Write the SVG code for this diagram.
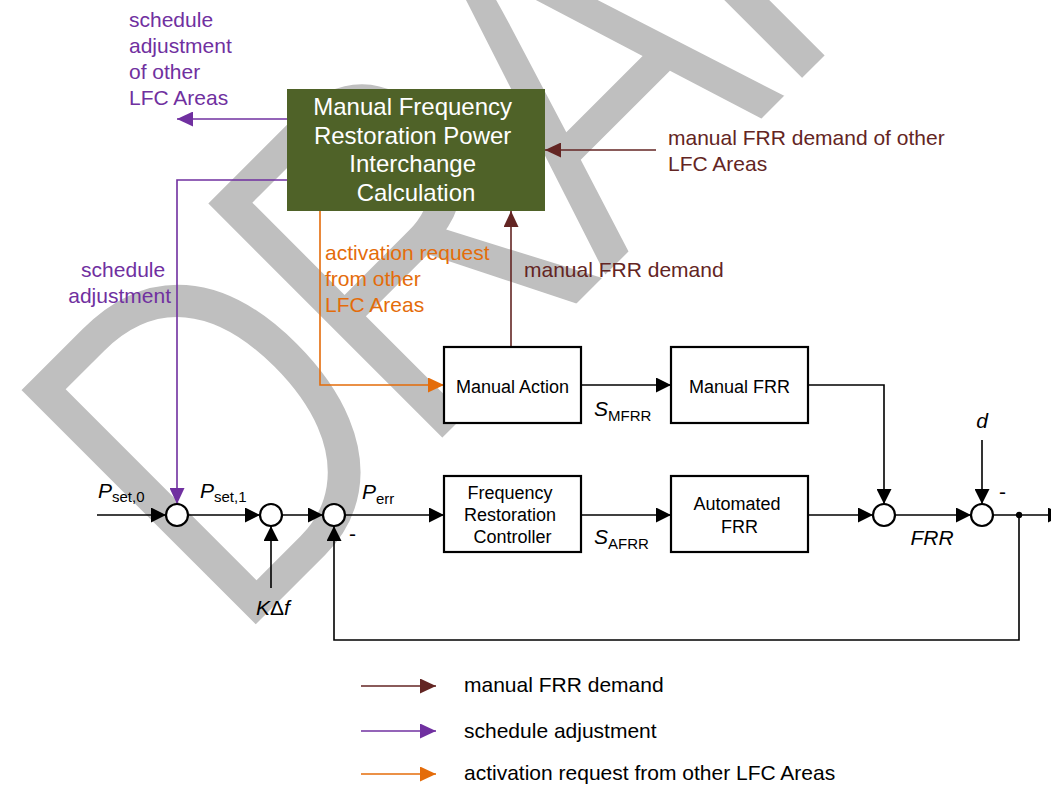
<svg xmlns="http://www.w3.org/2000/svg" width="1051" height="787" viewBox="0 0 1051 787">
  <style>
    .lbl { font-family: "Liberation Sans", Arial, sans-serif; }
    .blk { font-size: 18px; fill: #000; text-anchor: middle; }
    .sym { font-size: 21px; fill: #000; }
    .sub { font-size: 15px; }
    .it { font-style: italic; }
    .purple { fill: #7030A0; font-size: 21px; }
    .orange { fill: #E46C0A; font-size: 21px; }
    .brown { fill: #632523; font-size: 21px; }
    .leg { fill: #000; font-size: 21px; }
    .box { fill: #fff; stroke: #000; stroke-width: 2.2; }
    .sum { fill: #fff; stroke: #000; stroke-width: 2.2; }
    .w { fill: none; stroke: #000; stroke-width: 1.6; }
    .wp { fill: none; stroke: #7030A0; stroke-width: 1.6; }
    .wo { fill: none; stroke: #E46C0A; stroke-width: 1.6; }
    .wb { fill: none; stroke: #632523; stroke-width: 1.6; }
  </style>
  <defs>
    <marker id="ak" markerUnits="userSpaceOnUse" markerWidth="15" markerHeight="15" refX="15" refY="7.5" orient="auto">
      <path d="M0,0 L15,7.5 L0,15 z" fill="#000"/>
    </marker>
    <marker id="ap" markerUnits="userSpaceOnUse" markerWidth="16" markerHeight="15" refX="16" refY="7.5" orient="auto">
      <path d="M0,0 L16,7.5 L0,15 z" fill="#7030A0"/>
    </marker>
    <marker id="ao" markerUnits="userSpaceOnUse" markerWidth="16" markerHeight="15" refX="16" refY="7.5" orient="auto">
      <path d="M0,0 L16,7.5 L0,15 z" fill="#E46C0A"/>
    </marker>
    <marker id="ab" markerUnits="userSpaceOnUse" markerWidth="16" markerHeight="15" refX="16" refY="7.5" orient="auto">
      <path d="M0,0 L16,7.5 L0,15 z" fill="#632523"/>
    </marker>
  </defs>

  <rect width="1051" height="787" fill="#fff"/>

  <!-- background watermark, thinned with a white outline -->
  <g id="watermark" transform="translate(440,440) rotate(-45) scale(0.8,1)">
    <text class="lbl" font-size="490" fill="#bfbfbf" stroke="#fff" stroke-width="6" x="-369 -39 287 597 897" y="3">DRAFT</text>
  </g>

  <!-- connectors -->
  <g id="connectors">
    <!-- schedule adjustment of other LFC areas -->
    <path class="wp" d="M287,119 H177" marker-end="url(#ap)"/>
    <!-- schedule adjustment into first summing point -->
    <path class="wp" d="M287,180 H177 V504" marker-end="url(#ap)"/>
    <!-- activation request from other LFC areas -->
    <path class="wo" d="M320,211 V385 H444" marker-end="url(#ao)"/>
    <!-- manual FRR demand -->
    <path class="wb" d="M511,347 V211" marker-end="url(#ab)"/>
    <!-- manual FRR demand of other LFC areas -->
    <path class="wb" d="M656,150 H545" marker-end="url(#ab)"/>

    <!-- main signal path -->
    <path class="w" d="M97,515 H166" marker-end="url(#ak)"/>
    <path class="w" d="M188,515 H260" marker-end="url(#ak)"/>
    <path class="w" d="M282,515 H323" marker-end="url(#ak)"/>
    <path class="w" d="M271,588 V526" marker-end="url(#ak)"/>
    <path class="w" d="M345,515 H444" marker-end="url(#ak)"/>
    <path class="w" d="M581,515 H671" marker-end="url(#ak)"/>
    <path class="w" d="M808,515 H873" marker-end="url(#ak)"/>
    <path class="w" d="M895,515 H971" marker-end="url(#ak)"/>
    <path class="w" d="M993,515 H1063" marker-end="url(#ak)"/>
    <path class="w" d="M982,440 V504" marker-end="url(#ak)"/>
    <!-- manual branch -->
    <path class="w" d="M581,385 H671" marker-end="url(#ak)"/>
    <path class="w" d="M808,385 H884 V504" marker-end="url(#ak)"/>
    <!-- feedback -->
    <path class="w" d="M1019,515 V640 H334 V526" marker-end="url(#ak)"/>
    <circle cx="1019" cy="515" r="3.2" fill="#000"/>

    <!-- legend -->
    <path class="wb" d="M361,686 H436" marker-end="url(#ab)"/>
    <path class="wp" d="M361,731 H436" marker-end="url(#ap)"/>
    <path class="wo" d="M361,774 H436" marker-end="url(#ao)"/>
  </g>

  <!-- nodes -->
  <g id="mfrr-calc">
    <rect x="287" y="89" width="258" height="122" fill="#4F6228"/>
    <text class="lbl" font-size="24" fill="#fff" text-anchor="middle">
      <tspan x="416" y="115">Manual Frequency</tspan>
      <tspan x="416" y="143.5">Restoration Power</tspan>
      <tspan x="416" y="172">Interchange</tspan>
      <tspan x="416" y="200.5">Calculation</tspan>
    </text>
  </g>

  <g id="manual-action">
    <rect class="box" x="444" y="347" width="137" height="76"/>
    <text class="lbl blk" x="512.5" y="393">Manual Action</text>
  </g>
  <g id="manual-frr">
    <rect class="box" x="671" y="347" width="137" height="76"/>
    <text class="lbl blk" x="739.5" y="393">Manual FRR</text>
  </g>
  <g id="frc">
    <rect class="box" x="444" y="476" width="137" height="76"/>
    <text class="lbl blk">
      <tspan x="512.5" y="498.5">Frequency</tspan>
      <tspan x="512.5" y="520.5">Restoration</tspan>
      <tspan x="512.5" y="542.5">Controller</tspan>
    </text>
  </g>
  <g id="automated-frr">
    <rect class="box" x="671" y="476" width="137" height="76"/>
    <text class="lbl blk">
      <tspan x="739.5" y="510">Automated</tspan>
      <tspan x="739.5" y="532.5">FRR</tspan>
    </text>
  </g>

  <g id="sum1"><circle class="sum" cx="177" cy="515" r="11"/></g>
  <g id="sum2"><circle class="sum" cx="271" cy="515" r="11"/></g>
  <g id="sum3"><circle class="sum" cx="334" cy="515" r="11"/></g>
  <g id="sum4"><circle class="sum" cx="884" cy="515" r="11"/></g>
  <g id="sum5"><circle class="sum" cx="982" cy="515" r="11"/></g>

  <!-- signal labels -->
  <g id="labels" class="lbl">
    <text class="sym" x="98" y="498"><tspan class="it">P</tspan><tspan class="sub" dy="4">set,0</tspan></text>
    <text class="sym" x="200" y="498"><tspan class="it">P</tspan><tspan class="sub" dy="4">set,1</tspan></text>
    <text class="sym" x="362" y="499"><tspan class="it">P</tspan><tspan class="sub" dy="5">err</tspan></text>
    <text class="sym" x="256" y="615"><tspan class="it">K</tspan><tspan>Δ</tspan><tspan class="it">f</tspan></text>
    <text class="sym" x="349" y="541">-</text>
    <text class="sym" x="999" y="499">-</text>
    <text class="sym it" x="982" y="428" text-anchor="middle">d</text>
    <text class="sym it" x="932" y="545" text-anchor="middle">FRR</text>
    <text class="sym" x="594" y="416"><tspan class="it">S</tspan><tspan class="sub" dy="5">MFRR</tspan></text>
    <text class="sym" x="594" y="544"><tspan class="it">S</tspan><tspan class="sub" dy="5">AFRR</tspan></text>

    <text class="purple">
      <tspan x="129" y="27">schedule</tspan>
      <tspan x="129" y="53">adjustment</tspan>
      <tspan x="129" y="79">of other</tspan>
      <tspan x="129" y="105">LFC Areas</tspan>
    </text>
    <text class="purple" text-anchor="end">
      <tspan x="171" y="277">schedule</tspan>
      <tspan x="171" y="303">adjustment</tspan>
    </text>
    <text class="orange">
      <tspan x="325" y="260">activation request</tspan>
      <tspan x="325" y="286">from other</tspan>
      <tspan x="325" y="312">LFC Areas</tspan>
    </text>
    <text class="brown" x="524" y="277">manual FRR demand</text>
    <text class="brown">
      <tspan x="668" y="145">manual FRR demand of other</tspan>
      <tspan x="668" y="171">LFC Areas</tspan>
    </text>
  </g>

  <!-- legend -->
  <g id="legend" class="lbl">
    <text class="leg" x="464" y="692">manual FRR demand</text>
    <text class="leg" x="464" y="738">schedule adjustment</text>
    <text class="leg" x="464" y="780">activation request from other LFC Areas</text>
  </g>
</svg>
